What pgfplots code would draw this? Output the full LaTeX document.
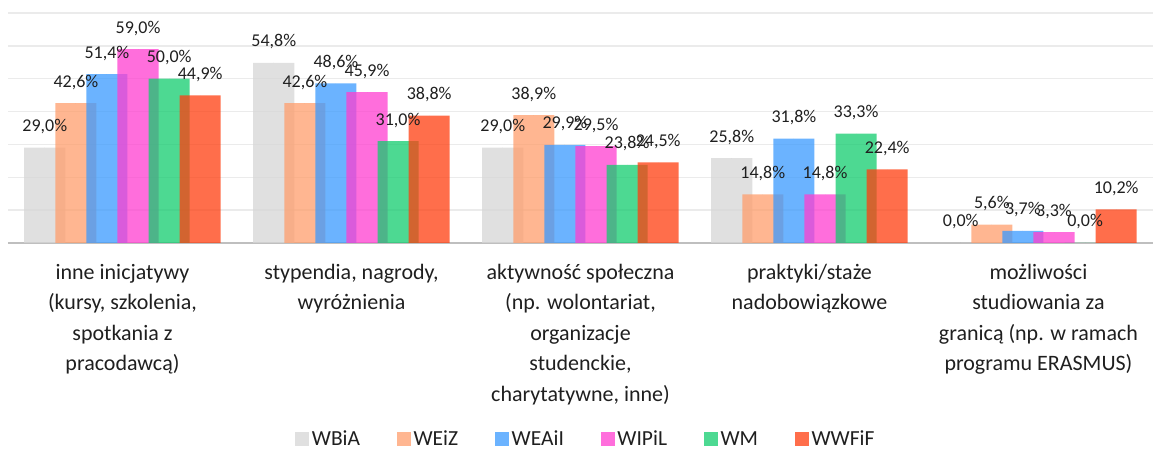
\documentclass[border=0pt]{standalone}
\usepackage{pgfplots}
\pgfplotsset{compat=1.18}
\usepackage{pgfplotstable}
\usepackage{fontspec}
\setmainfont{Carlito}
\definecolor{cA}{RGB}{214,214,214}
\definecolor{cB}{RGB}{255,158,108}
\definecolor{cC}{RGB}{58,154,255}
\definecolor{cD}{RGB}{255,62,208}
\definecolor{cE}{RGB}{18,204,110}
\definecolor{cF}{RGB}{255,62,15}
\pgfplotstableread{
x WBiA WEiZ WEAiI WIPiL WM WWFiF
0 29.0 42.6 51.4 59.0 50.0 44.9
1 54.8 42.6 48.6 45.9 31.0 38.8
2 29.0 38.9 29.9 29.5 23.8 24.5
3 25.8 14.8 31.8 14.8 33.3 22.4
4 0.0 5.6 3.7 3.3 0.0 10.2
}\data
\pgfplotsset{
  mybar/.style={ybar, bar width=0.1795, draw=none, fill opacity=0.75, fill=#1},
  mylab/.style={only marks, mark=*, mark size=0pt, draw=none, fill=none, forget plot,
    nodes near coords={\pgfmathprintnumber[fixed,fixed zerofill,precision=1,use comma,assume math mode=true]{\pgfplotspointmeta}\%},
    nodes near coords style={font=\fontsize{18}{20}\selectfont, text=black!88, anchor=base, yshift=16pt, inner sep=0pt}},
}
\begin{document}
\begin{tikzpicture}
\path[use as bounding box] (0,0) rectangle (1155pt,454pt);
\begin{axis}[
  at={(8pt,211pt)}, anchor=south west,
  scale only axis, width=1145pt, height=230pt,
  xmin=-0.5, xmax=4.5, ymin=0, ymax=70,
  clip=false,
  axis line style={draw=none},
  ytick={10,20,...,70}, yticklabels={},
  ymajorgrids, grid style={draw=black!8, line width=1.3pt},
  extra y ticks={0}, extra y tick labels={},
  extra y tick style={grid style={draw=black!25, line width=2.5pt}},
  major tick length=0pt,
  xtick={0,1,2,3,4},
  xticklabels={
    {\strut inne inicjatywy\\(kursy, szkolenia,\\spotkania z\\pracodawcą)},
    {\strut stypendia, nagrody,\\wyróżnienia},
    {\strut aktywność społeczna\\(np. wolontariat,\\organizacje\\studenckie,\\charytatywne, inne)},
    {\strut praktyki/staże\\nadobowiązkowe},
    {\strut możliwości\\studiowania za\\granicą (np. w ramach\\programu ERASMUS)}},
  xticklabel style={align=center, anchor=north, inner sep=0pt, yshift=-14.6pt, font=\fontsize{22}{30.5}\selectfont, text=black!88},
  legend columns=-1,
  legend style={at={(axis description cs:0.505,-0.852)}, anchor=center, draw=none, fill=none,
    font=\fontsize{21.5}{26}\selectfont, text=black!88,
    /tikz/every even column/.append style={column sep=34.5pt},
    nodes={inner sep=2.5pt}},
  legend image code/.code={\fill[#1] (0pt,-7pt) rectangle (14pt,7pt);},
]
\addplot[mybar=cA, bar shift=-0.3393] table[x=x,y=WBiA]{\data};
\addlegendentry{WBiA}
\addplot[mybar=cB, bar shift=-0.2036] table[x=x,y=WEiZ]{\data};
\addlegendentry{WEiZ}
\addplot[mybar=cC, bar shift=-0.0679] table[x=x,y=WEAiI]{\data};
\addlegendentry{WEAiI}
\addplot[mybar=cD, bar shift=0.0679] table[x=x,y=WIPiL]{\data};
\addlegendentry{WIPiL}
\addplot[mybar=cE, bar shift=0.2036] table[x=x,y=WM]{\data};
\addlegendentry{WM}
\addplot[mybar=cF, bar shift=0.3393] table[x=x,y=WWFiF]{\data};
\addlegendentry{WWFiF}
\addplot[mylab] table[x expr=\thisrow{x}-0.3393,y=WBiA]{\data};
\addplot[mylab] table[x expr=\thisrow{x}-0.2036,y=WEiZ]{\data};
\addplot[mylab] table[x expr=\thisrow{x}-0.0679,y=WEAiI]{\data};
\addplot[mylab] table[x expr=\thisrow{x}+0.0679,y=WIPiL]{\data};
\addplot[mylab] table[x expr=\thisrow{x}+0.2036,y=WM]{\data};
\addplot[mylab] table[x expr=\thisrow{x}+0.3393,y=WWFiF]{\data};
\end{axis}
\end{tikzpicture}
\end{document}
